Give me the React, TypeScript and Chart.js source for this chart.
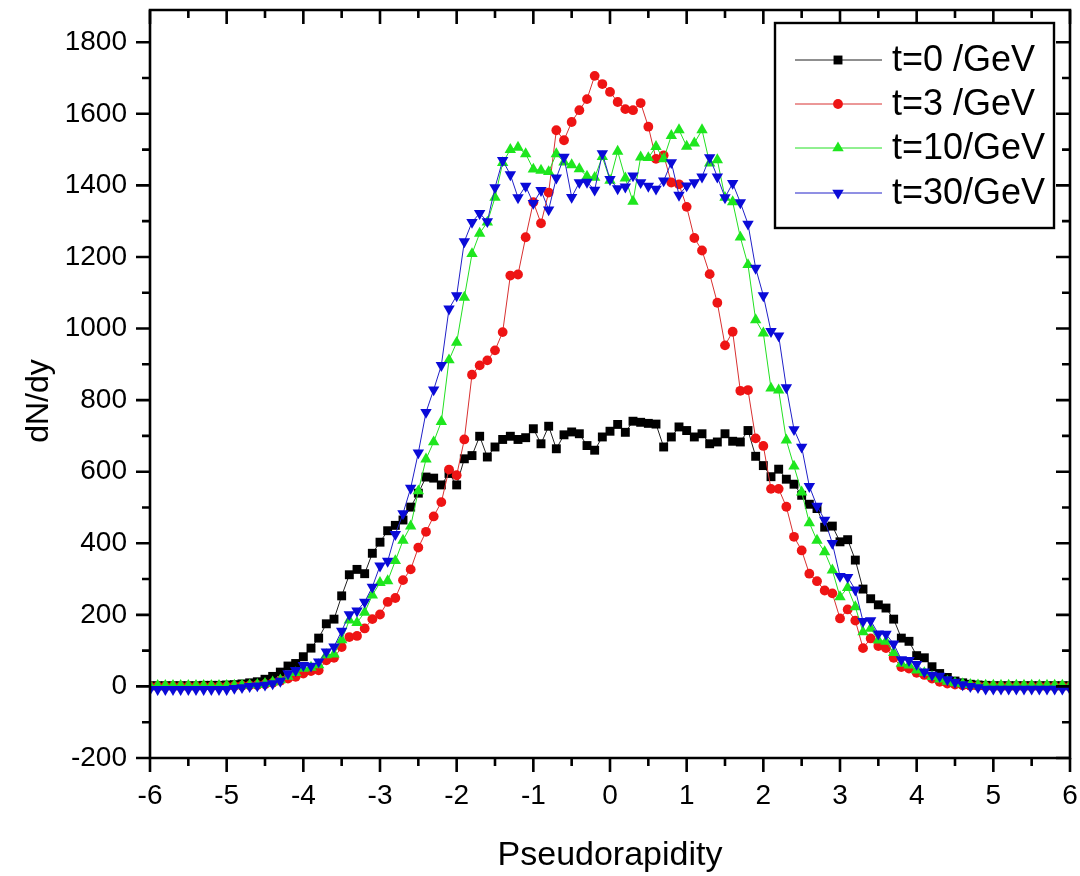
import React, { useEffect, useRef } from 'react';
import { Chart, registerables } from 'chart.js';

Chart.register(...registerables);

// ---- data ----
const xValues = [
  -6.0, -5.9, -5.8, -5.7, -5.6, -5.5, -5.4, -5.3, -5.2, -5.1,
  -5.0, -4.9, -4.8, -4.7, -4.6, -4.5, -4.4, -4.3, -4.2, -4.1,
  -4.0, -3.9, -3.8, -3.7, -3.6, -3.5, -3.4, -3.3, -3.2, -3.1,
  -3.0, -2.9, -2.8, -2.7, -2.6, -2.5, -2.4, -2.3, -2.2, -2.1,
  -2.0, -1.9, -1.8, -1.7, -1.6, -1.5, -1.4, -1.3, -1.2, -1.1,
  -1.0, -0.9, -0.8, -0.7, -0.6, -0.5, -0.4, -0.3, -0.2, -0.1,
  0.0, 0.1, 0.2, 0.3, 0.4, 0.5, 0.6, 0.7, 0.8, 0.9,
  1.0, 1.1, 1.2, 1.3, 1.4, 1.5, 1.6, 1.7, 1.8, 1.9,
  2.0, 2.1, 2.2, 2.3, 2.4, 2.5, 2.6, 2.7, 2.8, 2.9,
  3.0, 3.1, 3.2, 3.3, 3.4, 3.5, 3.6, 3.7, 3.8, 3.9,
  4.0, 4.1, 4.2, 4.3, 4.4, 4.5, 4.6, 4.7, 4.8, 4.9,
  5.0, 5.1, 5.2, 5.3, 5.4, 5.5, 5.6, 5.7, 5.8, 5.9,
  6.0,
];

const t0 = [
  2, 2, 2, 2, 2, 2, 2, 3, 3, 3,
  4, 5, 7, 10, 13, 20, 28, 40, 57, 64,
  83, 107, 135, 175, 188, 253, 312, 327, 315, 372,
  403, 435, 450, 465, 501, 540, 585, 582, 563, 595,
  563, 636, 645, 699, 641, 669, 690, 699, 690, 695,
  720, 678, 727, 664, 703, 711, 706, 673, 660, 697,
  713, 732, 710, 741, 738, 735, 733, 669, 697, 725,
  715, 697, 706, 678, 683, 706, 685, 683, 715, 643,
  617, 586, 607, 579, 565, 534, 509, 497, 445, 448,
  404, 410, 353, 272, 245, 228, 219, 188, 135, 126,
  86, 80, 55, 36, 25, 15, 10, 6, 4, 3,
  2, 2, 2, 2, 2, 2, 2, 2, 2, 2,
  2,
];

const t3 = [
  0, 0, 0, 0, 0, 0, 0, 0, 0, 0,
  0, 1, 2, 3, 4, 6, 10, 16, 22, 27,
  36, 43, 45, 73, 80, 110, 138, 141, 162, 188,
  201, 236, 247, 297, 327, 388, 432, 475, 515, 606,
  590, 690, 871, 897, 911, 939, 990, 1148, 1151, 1255,
  1353, 1294, 1380, 1554, 1526, 1577, 1610, 1641, 1706, 1683,
  1661, 1633, 1613, 1610, 1630, 1564, 1474, 1484, 1408, 1403,
  1340, 1253, 1218, 1152, 1072, 953, 991, 826, 828, 693,
  672, 552, 552, 502, 418, 380, 315, 294, 268, 260,
  190, 215, 184, 107, 134, 113, 107, 80, 54, 50,
  38, 32, 22, 13, 8, 5, 3, 2, 1, 0,
  0, 0, 0, 0, 0, 0, 0, 0, 0, 0,
  0,
];

const t10 = [
  2, 2, 2, 2, 2, 2, 2, 2, 2, 2,
  2, 3, 3, 4, 5, 8, 12, 18, 28, 38,
  50, 53, 60, 88, 90, 130, 185, 178, 207, 255,
  290, 295, 351, 408, 448, 546, 635, 683, 740, 912,
  961, 1087, 1209, 1266, 1297, 1366, 1463, 1500, 1506, 1488,
  1445, 1442, 1438, 1488, 1465, 1457, 1446, 1425, 1422, 1480,
  1414, 1495, 1420, 1355, 1479, 1477, 1508, 1474, 1539, 1555,
  1509, 1518, 1555, 1462, 1471, 1366, 1354, 1255, 1178, 1024,
  987, 833, 828, 688, 615, 543, 457, 408, 376, 325,
  250, 276, 222, 152, 162, 129, 126, 94, 64, 59,
  45, 38, 27, 20, 14, 10, 7, 5, 4, 3,
  3, 3, 3, 3, 3, 3, 3, 3, 3, 3,
  3,
];

const t30 = [
  -8, -8, -8, -8, -8, -8, -8, -8, -8, -8,
  -8, -5, -3, 0, 2, 4, 8, 15, 36, 45,
  59, 57, 69, 97, 111, 155, 201, 211, 236, 278,
  337, 350, 425, 483, 554, 653, 766, 829, 897, 1055,
  1092, 1243, 1297, 1322, 1299, 1394, 1470, 1430, 1366, 1398,
  1350, 1386, 1332, 1421, 1479, 1367, 1408, 1409, 1387, 1489,
  1417, 1391, 1396, 1427, 1408, 1398, 1390, 1413, 1464, 1373,
  1399, 1408, 1424, 1478, 1424, 1366, 1406, 1352, 1292, 1169,
  1092, 992, 980, 835, 718, 669, 559, 504, 465, 400,
  308, 305, 270, 182, 184, 147, 146, 119, 75, 73,
  62, 41, 32, 29, 19, 12, 5, 0, -3, -7,
  -7, -7, -7, -7, -7, -7, -7, -7, -7, -7,
  -7,
];

const seriesLabels = ['t=0 /GeV', 't=3 /GeV', 't=10/GeV', 't=30/GeV'];
const xTicks = [-6, -5, -4, -3, -2, -1, 0, 1, 2, 3, 4, 5, 6];
const xMinorTicks = [-5.5, -4.5, -3.5, -2.5, -1.5, -0.5, 0.5, 1.5, 2.5, 3.5, 4.5, 5.5];
const yTicks = [-200, 0, 200, 400, 600, 800, 1000, 1200, 1400, 1600, 1800];
const yMinorTicks = [-100, 100, 300, 500, 700, 900, 1100, 1300, 1500, 1700];
const xTitle = 'Pseudorapidity';
const yTitle = 'dN/dy';

// ---- styles ----
const FONT = "'Liberation Sans', Arial, Helvetica, sans-serif";
const COLORS = ['#000000', '#ee1414', '#1ee61e', '#0a0ad8'];
const LINE_COLORS = ['#202020', '#d83030', '#22e022', '#2020c8'];
const STYLES = ['rect', 'circle', 'triangle', 'triangleDown'];
const RADII = [6.3, 4.9, 6.6, 6.6];

function drawMarker(ctx: CanvasRenderingContext2D, style: string, x: number, y: number, color: string, radius: number) {
  ctx.save();
  ctx.fillStyle = color;
  ctx.beginPath();
  if (style === 'rect') {
    const s = radius * Math.SQRT1_2;
    ctx.rect(x - s, y - s, 2 * s, 2 * s);
  } else if (style === 'circle') {
    ctx.arc(x, y, radius, 0, Math.PI * 2);
  } else {
    let rad = style === 'triangleDown' ? Math.PI : 0;
    for (let k = 0; k < 3; k++) {
      const px = x + Math.sin(rad) * radius;
      const py = y - Math.cos(rad) * radius;
      if (k === 0) ctx.moveTo(px, py); else ctx.lineTo(px, py);
      rad += (2 * Math.PI) / 3;
    }
    ctx.closePath();
  }
  ctx.fill();
  ctx.restore();
}

const framePlugin = {
  id: 'originFrame',
  afterDraw(chart: any) {
    const { ctx, chartArea } = chart;
    const { left, right, top, bottom } = chartArea;
    const xs = chart.scales.x;
    const ys = chart.scales.y;
    ctx.save();
    ctx.strokeStyle = '#000';
    ctx.lineWidth = 2.6;
    ctx.lineCap = 'butt';
    ctx.beginPath();
    ctx.rect(left, top, right - left, bottom - top);
    ctx.stroke();

    const major = 14;
    const minor = 8;
    ctx.beginPath();
    xTicks.forEach((v) => {
      const px = xs.getPixelForValue(v);
      ctx.moveTo(px, bottom); ctx.lineTo(px, bottom + major);
      ctx.moveTo(px, top); ctx.lineTo(px, top + major);
    });
    xMinorTicks.forEach((v) => {
      const px = xs.getPixelForValue(v);
      ctx.moveTo(px, bottom); ctx.lineTo(px, bottom + minor);
      ctx.moveTo(px, top); ctx.lineTo(px, top + minor);
    });
    yTicks.forEach((v) => {
      const py = ys.getPixelForValue(v);
      ctx.moveTo(left, py); ctx.lineTo(left - major, py);
      ctx.moveTo(right, py); ctx.lineTo(right - major, py);
    });
    yMinorTicks.forEach((v) => {
      const py = ys.getPixelForValue(v);
      ctx.moveTo(left, py); ctx.lineTo(left - minor, py);
      ctx.moveTo(right, py); ctx.lineTo(right - minor, py);
    });
    ctx.stroke();

    // y axis title
    ctx.save();
    ctx.translate(48, 401);
    ctx.rotate(-Math.PI / 2);
    ctx.fillStyle = '#000';
    ctx.font = `32px ${FONT}`;
    ctx.textAlign = 'center';
    ctx.textBaseline = 'alphabetic';
    ctx.fillText(yTitle, 0, 0);
    ctx.restore();

    // legend box
    const bx = 775, by = 23, bw = 279, bh = 205;
    ctx.fillStyle = '#fff';
    ctx.fillRect(bx, by, bw, bh);
    ctx.lineWidth = 2.4;
    ctx.strokeStyle = '#000';
    ctx.strokeRect(bx, by, bw, bh);
    const rowY = [60, 104, 148, 193];
    seriesLabels.forEach((label, i) => {
      const yy = rowY[i];
      ctx.strokeStyle = LINE_COLORS[i];
      ctx.lineWidth = 1;
      ctx.beginPath();
      ctx.moveTo(795, yy);
      ctx.lineTo(882, yy);
      ctx.stroke();
      drawMarker(ctx, STYLES[i], 838, yy, COLORS[i], RADII[i]);
      ctx.fillStyle = '#000';
      ctx.font = `36px ${FONT}`;
      ctx.textAlign = 'left';
      ctx.textBaseline = 'middle';
      ctx.fillText(label, 892, yy + 1);
    });
    ctx.restore();
  },
};

export default function App() {
  const canvasRef = useRef<HTMLCanvasElement | null>(null);

  useEffect(() => {
    document.body.style.margin = '0';
    const canvas = canvasRef.current;
    if (!canvas) return;
    const series = [t0, t3, t10, t30];
    const datasets = series.map((vals, i) => ({
      label: seriesLabels[i],
      data: xValues.map((x, k) => ({ x, y: vals[k] })),
      borderColor: LINE_COLORS[i],
      backgroundColor: COLORS[i],
      pointBackgroundColor: COLORS[i],
      pointBorderColor: COLORS[i],
      pointBorderWidth: 0,
      borderWidth: 1,
      pointStyle: STYLES[i] === 'triangleDown' ? 'triangle' : STYLES[i],
      pointRotation: STYLES[i] === 'triangleDown' ? 180 : 0,
      pointRadius: RADII[i],
      tension: 0,
      fill: false,
      order: 4 - i,
    }));

    const chart = new Chart(canvas, {
      type: 'line',
      data: { datasets },
      plugins: [framePlugin],
      options: {
        responsive: false,
        animation: false,
        events: [],
        layout: { padding: { top: 10, right: 10, left: 0, bottom: 0 } },
        plugins: { legend: { display: false }, tooltip: { enabled: false } },
        scales: {
          x: {
            type: 'linear',
            position: 'bottom',
            min: -6,
            max: 6,
            grid: { display: false, drawTicks: false },
            border: { display: false },
            ticks: {
              color: '#000',
              font: { family: FONT, size: 28 },
              padding: 21,
              autoSkip: false,
              maxRotation: 0,
              callback: (v: any) => String(v),
            },
            afterBuildTicks: (s: any) => { s.ticks = xTicks.map((v) => ({ value: v })); },
            afterFit: (s: any) => { s.height = 118; s.paddingLeft = 0; s.paddingRight = 0; },
            title: {
              display: true,
              text: xTitle,
              color: '#000',
              font: { family: FONT, size: 34 },
              padding: { top: 0, bottom: 0 },
            },
          },
          y: {
            type: 'linear',
            position: 'left',
            min: -200,
            max: 1890,
            grid: { display: false, drawTicks: false },
            border: { display: false },
            ticks: {
              color: '#000',
              font: { family: FONT, size: 28 },
              padding: 23,
              autoSkip: false,
              callback: (v: any) => String(v),
            },
            afterBuildTicks: (s: any) => { s.ticks = yTicks.map((v) => ({ value: v })); },
            afterFit: (s: any) => { s.width = 150; s.paddingTop = 0; s.paddingBottom = 0; },
            title: { display: false },
          },
        },
      } as any,
    });
    return () => chart.destroy();
  }, []);

  return (
    <div style={{ width: 1080, height: 876 }}>
      <canvas ref={canvasRef} width={1080} height={876} style={{ display: 'block' }} />
    </div>
  );
}
